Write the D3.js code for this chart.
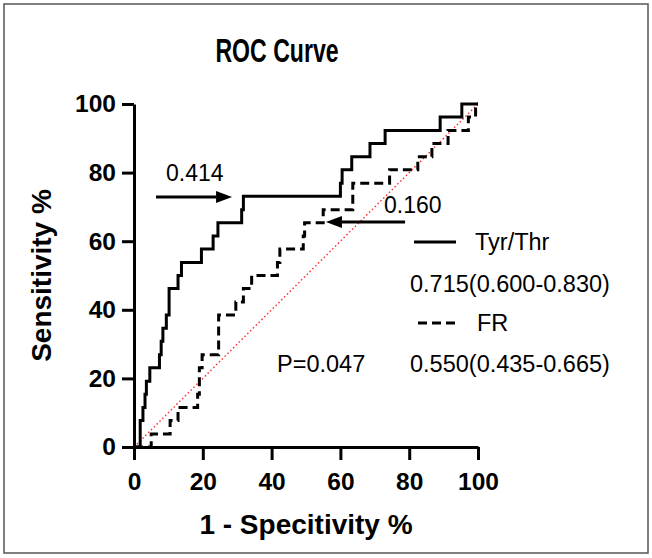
<!DOCTYPE html>
<html lang="en">
<head>
<meta charset="utf-8">
<script src="https://cdn.jsdelivr.net/npm/d3@7/dist/d3.min.js"></script>
<style>
body { margin:0; background:white; }
text { font-family: "Liberation Sans", Arial, sans-serif; fill:#000; }
</style>
</head>
<body>
<div id="chart"></div>
<script>

var width = 652
var height = 558

// step corners of each ROC curve (x = 1 - specificity %, y = sensitivity %)
var tyrFpr = [0, 1.8, 2.6, 3.2, 3.6, 4.6, 7.4, 7.9, 8.4, 9.4, 10.2, 12.8, 13.8, 19.6, 23.0, 24.4, 31.3, 31.8, 60.0, 60.5, 63.3, 68.6, 73.0, 89.0, 95.3, 100]
var tyrTpr = [0, 7.7, 11.5, 15.4, 19.2, 23.1, 26.9, 30.8, 34.6, 38.5, 46.2, 50.0, 53.8, 57.7, 61.5, 65.4, 69.2, 73.1, 76.9, 80.8, 84.6, 88.5, 92.3, 96.2, 100, 100]

var frFpr = [0, 5.0, 10.5, 12.8, 18.5, 19.0, 19.8, 24.6, 29.6, 31.8, 34.2, 41.7, 42.4, 49.2, 49.6, 55.0, 63.6, 74.3, 82.5, 86.6, 91.3, 97.2, 99.3, 100]
var frTpr = [0, 3.8, 7.7, 11.5, 15.4, 23.1, 26.9, 38.5, 42.3, 46.2, 50.0, 53.8, 57.7, 61.5, 65.4, 69.2, 76.9, 80.8, 84.6, 88.5, 92.3, 96.2, 100, 100]

var diagonal = [0, 100]

var xTicks = [0, 20, 40, 60, 80, 100]
var yTicks = [0, 20, 40, 60, 80, 100]

var seriesNames = ["Tyr/Thr", "FR"]
var aucLabels = ["0.715(0.600-0.830)", "0.550(0.435-0.665)"]
var pLabel = "P=0.047"

// cut-off arrows: label, tail x, tip x, y (data units)
var cutLabels = ["0.414", "0.160"]
var cutTail = [6.4, 78.8]
var cutTip = [28.5, 55.8]
var cutY = [72.9, 65.6]

var svg = d3.select('#chart').append("svg")
    .attr("width", width)
    .attr("height", height);

svg.append("rect")
    .attr("x", 4).attr("y", 4)
    .attr("width", 644).attr("height", 549)
    .attr("fill", "white")
    .attr("stroke", "#555")
    .attr("stroke-width", 1.5);

var x = d3.scaleLinear().domain([0, 100]).range([134, 478]);
var y = d3.scaleLinear().domain([0, 100]).range([447, 104]);

// title is set in a narrow bold face in the original
svg.append("text")
    .attr("transform", "translate(277,62) scale(0.7,1)")
    .attr("text-anchor", "middle")
    .attr("font-size", 33)
    .attr("font-weight", "bold")
    .text("ROC Curve");

// diagonal reference
svg.append("line")
    .attr("x1", x(diagonal[0])).attr("y1", y(diagonal[0]))
    .attr("x2", x(diagonal[1])).attr("y2", y(diagonal[1]))
    .attr("stroke", "#ff2a2a")
    .attr("stroke-width", 1.4)
    .attr("stroke-dasharray", "1.5,2.5");

var line = d3.line()
    .x(function(d) { return x(d[0]) })
    .y(function(d) { return y(d[1]) })
    .curve(d3.curveStepAfter);

svg.append("path")
    .datum(d3.zip(frFpr, frTpr))
    .attr("d", line)
    .attr("fill", "none")
    .attr("stroke", "#000")
    .attr("stroke-width", 3)
    .attr("stroke-dasharray", "9,5");

svg.append("path")
    .datum(d3.zip(tyrFpr, tyrTpr))
    .attr("d", line)
    .attr("fill", "none")
    .attr("stroke", "#000")
    .attr("stroke-width", 3);

var gx = svg.append("g")
    .attr("transform", "translate(0," + y(0) + ")")
    .call(d3.axisBottom(x).tickValues(xTicks).tickSize(13).tickSizeOuter(0).tickPadding(13));

var gy = svg.append("g")
    .attr("transform", "translate(" + x(0) + ",0)")
    .call(d3.axisLeft(y).tickValues(yTicks).tickSize(12).tickSizeOuter(0).tickPadding(6));

[gx, gy].forEach(function(g) {
    g.select(".domain").attr("stroke", "#000").attr("stroke-width", 3);
    g.selectAll(".tick line").attr("stroke", "#000").attr("stroke-width", 3);
    g.selectAll(".tick text")
        .attr("fill", "#000")
        .attr("font-family", "Liberation Sans, Arial, sans-serif")
        .attr("font-size", 24.5)
        .attr("font-weight", "bold");
});

svg.append("text")
    .attr("x", 306).attr("y", 534)
    .attr("text-anchor", "middle")
    .attr("font-size", 28)
    .attr("font-weight", "bold")
    .text("1 - Specitivity %");

svg.append("text")
    .attr("transform", "translate(51," + ((y(0) + y(100)) / 2) + ") rotate(-90)")
    .attr("text-anchor", "middle")
    .attr("font-size", 28)
    .attr("font-weight", "bold")
    .text("Sensitivity %");

// cut-off arrows
cutLabels.forEach(function(lab, i) {
    var x0 = x(cutTail[i]), x1 = x(cutTip[i]), yy = y(cutY[i]);
    var dir = x1 > x0 ? 1 : -1;
    var head = 16;
    svg.append("line")
        .attr("x1", x0).attr("y1", yy)
        .attr("x2", x1 - dir * head).attr("y2", yy)
        .attr("stroke", "#000")
        .attr("stroke-width", 3);
    svg.append("path")
        .attr("d", "M" + x1 + "," + yy + "L" + (x1 - dir * head) + "," + (yy - 6) + "L" + (x1 - dir * head) + "," + (yy + 6) + "Z")
        .attr("fill", "#000");
});

svg.append("text")
    .attr("x", x(9.3)).attr("y", y(77.6))
    .attr("font-size", 23)
    .text(cutLabels[0]);

svg.append("text")
    .attr("x", x(72.7)).attr("y", y(68.2))
    .attr("font-size", 23)
    .text(cutLabels[1]);

// legend
var legend = svg.append("g");

legend.append("line")
    .attr("x1", 414).attr("x2", 456).attr("y1", 242).attr("y2", 242)
    .attr("stroke", "#000").attr("stroke-width", 3);
legend.append("text").attr("x", 475).attr("y", 250).attr("font-size", 23.5).text(seriesNames[0]);
legend.append("text").attr("x", 410).attr("y", 292).attr("font-size", 23.5).text(aucLabels[0]);

legend.append("line")
    .attr("x1", 418).attr("x2", 456).attr("y1", 323).attr("y2", 323)
    .attr("stroke", "#000").attr("stroke-width", 3)
    .attr("stroke-dasharray", "9,5");
legend.append("text").attr("x", 477).attr("y", 331).attr("font-size", 23.5).text(seriesNames[1]);
legend.append("text").attr("x", 410).attr("y", 372).attr("font-size", 23.5).text(aucLabels[1]);

svg.append("text").attr("x", 277).attr("y", 372).attr("font-size", 23.5).text(pLabel);

</script>
</body>
</html>
